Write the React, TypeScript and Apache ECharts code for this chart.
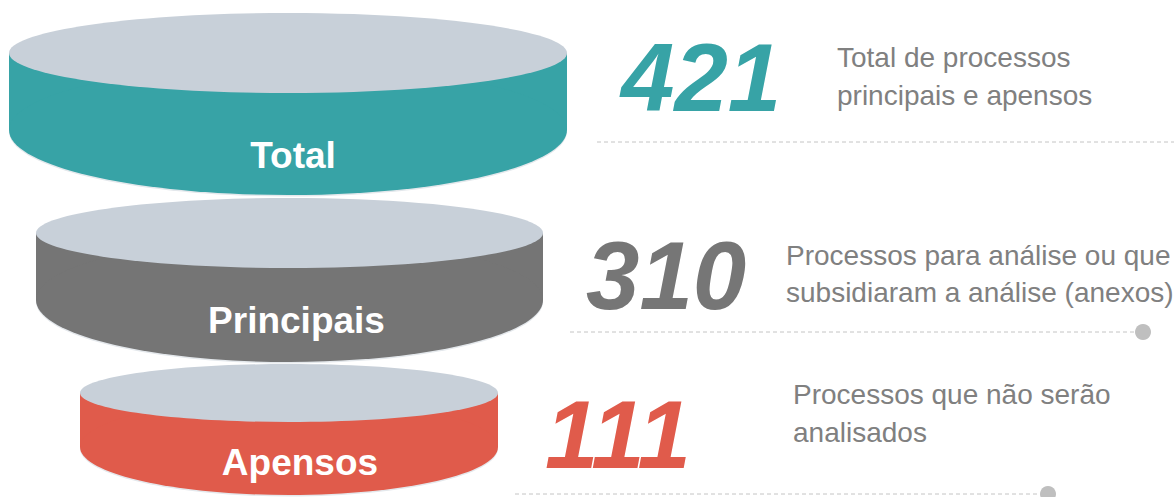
import React, { useEffect, useRef } from "react";
import * as echarts from "echarts";

// ---- data ----
const categories = ["Total", "Principais", "Apensos"];
const values = [421, 310, 111];
const descLine1 = ["Total de processos", "Processos para análise ou que", "Processos que não serão"];
const descLine2 = ["principais e apensos", "subsidiaram a análise (anexos)", "analisados"];

// ---- styles / layout (not data) ----
const bodyColors = ["#37A3A6", "#757575", "#E05B4B"];
const numberColors = ["#37A3A6", "#767676", "#E05B4B"];
const topColor = "#C8D0D9";
const descColor = "#808080";
const dashColor = "#C4C4C4";
const FONT = "Liberation Sans";

// cylinder geometry: center x, radius x, top-ellipse center y, top ry, body bottom center y, bottom ry
const cyl = [
  { cx: 288, rx: 279, cyTop: 53, ryTop: 40, cyBot: 130, ryBot: 65, labelDx: 5, labelY: 155 },
  { cx: 289.5, rx: 253.5, cyTop: 233, ryTop: 35, cyBot: 300, ryBot: 62, labelDx: 7, labelY: 320 },
  { cx: 289, rx: 209, cyTop: 393, ryTop: 29, cyBot: 447, ryBot: 48, labelDx: 11, labelY: 462 },
];
const numPos = [
  { x: 621, y: 77 },
  { x: 586, y: 275 },
  { x: 545, y: 434 },
];
const descPos = [
  { x: 837, y1: 71, y2: 109 },
  { x: 786, y1: 269, y2: 306 },
  { x: 793, y1: 408, y2: 446 },
];
const dashPos = [
  { x1: 597, x2: 1174, y: 142, dot: false },
  { x1: 570, x2: 1135, y: 332, dot: true },
  { x1: 515, x2: 1040, y: 494, dot: true },
];

export default function App() {
  const ref = useRef<HTMLDivElement>(null);

  useEffect(() => {
    if (!ref.current) return;
    const chart = echarts.init(ref.current, null, { renderer: "svg" });

    const renderItem = (params: any, api: any) => {
      const i = params.dataIndex;
      const g = cyl[i];
      const P = (x: number, y: number) => api.coord([x, y]);
      const S = (dx: number, dy: number) => api.size([dx, dy]);

      const c = P(g.cx, g.cyTop);
      const cb = P(g.cx, g.cyBot);
      const r = S(g.rx, g.ryTop);
      const rb = S(g.rx, g.ryBot);
      const tl = P(g.cx - g.rx, g.cyTop);
      const bodyH = cb[1] - c[1];
      const lbl = P(g.cx + g.labelDx, g.labelY);
      const np = P(numPos[i].x, numPos[i].y);
      const d1 = P(descPos[i].x, descPos[i].y1);
      const d2 = P(descPos[i].x, descPos[i].y2);
      const l1 = P(dashPos[i].x1, dashPos[i].y);
      const l2 = P(dashPos[i].x2, dashPos[i].y);

      const children: any[] = [
        {
          type: "ellipse",
          shape: { cx: cb[0], cy: cb[1] + 1.5, rx: rb[0], ry: rb[1] },
          style: { fill: "#E4E8EC" },
        },
        {
          type: "rect",
          shape: { x: tl[0], y: tl[1], width: r[0] * 2, height: bodyH },
          style: { fill: bodyColors[i] },
        },
        {
          type: "ellipse",
          shape: { cx: cb[0], cy: cb[1], rx: rb[0], ry: rb[1] },
          style: { fill: bodyColors[i] },
        },
        {
          type: "ellipse",
          shape: { cx: c[0], cy: c[1], rx: r[0], ry: r[1] },
          style: { fill: topColor },
        },
        {
          type: "text",
          style: {
            text: categories[i],
            x: lbl[0],
            y: lbl[1],
            align: "center",
            verticalAlign: "middle",
            fill: "#FFFFFF",
            fontFamily: FONT,
            fontWeight: "bold",
            fontSize: 37,
          },
        },
        {
          type: "text",
          style: {
            text: String(api.value(1)),
            x: np[0],
            y: np[1],
            align: "left",
            verticalAlign: "middle",
            fill: numberColors[i],
            fontFamily: FONT,
            fontWeight: "bold",
            fontStyle: "italic",
            fontSize: 96,
          },
        },
        {
          type: "text",
          style: {
            text: descLine1[i],
            x: d1[0],
            y: d1[1],
            align: "left",
            verticalAlign: "bottom",
            fill: descColor,
            fontFamily: FONT,
            fontSize: 28,
          },
        },
        {
          type: "text",
          style: {
            text: descLine2[i],
            x: d2[0],
            y: d2[1],
            align: "left",
            verticalAlign: "bottom",
            fill: descColor,
            fontFamily: FONT,
            fontSize: 28,
          },
        },
        {
          type: "line",
          shape: { x1: l1[0], y1: l1[1], x2: l2[0], y2: l2[1] },
          style: { stroke: dashColor, lineWidth: 1, lineDash: [4, 3] },
        },
      ];
      if (dashPos[i].dot) {
        const dp = P(dashPos[i].x2 + 8, dashPos[i].y);
        children.push({
          type: "circle",
          shape: { cx: dp[0], cy: dp[1], r: 8 },
          style: { fill: "#BFBFBF" },
        });
      }
      return { type: "group", children };
    };

    chart.setOption({
      animation: false,
      grid: { left: 0, right: 0, top: 0, bottom: 0 },
      xAxis: { type: "value", min: 0, max: 1174, show: false },
      yAxis: { type: "value", min: 0, max: 497, inverse: true, show: false },
      series: [
        {
          type: "custom",
          clip: false,
          renderItem,
          data: categories.map((c, i) => [i, values[i]]),
          encode: { x: -1, y: -1 },
        },
      ],
    });

    return () => chart.dispose();
  }, []);

  return (
    <div
      ref={ref}
      style={{ position: "fixed", left: 0, top: 0, width: 1174, height: 497, background: "#fff" }}
    />
  );
}
